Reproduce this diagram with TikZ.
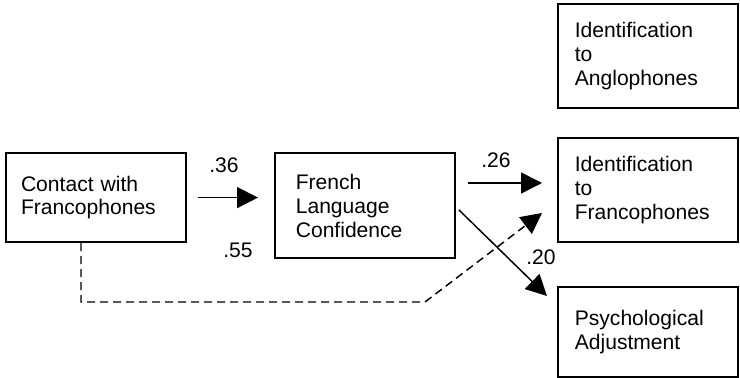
\documentclass[tikz,border=0pt]{standalone}
\usepackage{fontspec}
\setmainfont{Liberation Sans}
\usepackage{tikz}
\usetikzlibrary{positioning,arrows.meta}

\tikzset{
  box/.style={draw, line width=0.05cm, minimum width=4.5cm, text width=3.66cm,
    inner xsep=0.42cm, align=left, font=\fontsize{15}{17}\selectfont},
  coef/.style={font=\fontsize{15}{17}\selectfont, inner sep=0pt},
  path arrow/.style={line width=0.037cm, -{Triangle[length=0.52cm,width=0.52cm]}},
  indirect/.style={dash pattern=on 0.2cm off 0.125cm},
}

\begin{document}
\begin{tikzpicture}
	\useasboundingbox (0,0) rectangle (18.5,9.45);
	% Predictor and mediator
	\node[box, minimum height=2.225cm, inner xsep=0.375cm, text width=3.75cm] (contact) at (2.4,4.51) {Contact with\\Francophones};
	\node[box, minimum height=2.625cm, inner xsep=0.52cm, text width=3.46cm] (french) at (9.125,4.31) {French\\Language\\Confidence};
	% Outcomes
	\node[box, minimum height=2.6cm] (idanglo) at (16.2,8.05) {Identification\\to\\Anglophones};
	\node[box, minimum height=2.6cm] (idfranco) at (16.2,4.7) {Identification\\to\\Francophones};
	\node[box, minimum height=2.25cm] (psych) at (16.2,1.15) {Psychological\\Adjustment};
	% Paths
	\coordinate []  (f26) at ([yshift=0.565cm]french.east) ;
	\coordinate []  (bend) at (10.625,1.9) ;
	\draw[path arrow, shorten <=0.275cm, shorten >=0.4cm] (contact.east) -- (contact.east -| french.west);
	\draw[path arrow, shorten <=0.3cm, shorten >=0.375cm] (f26) -- (f26 -| idfranco.west);
	\draw[path arrow] ([shift={(0.075,-0.11)}]french.east) -- ([shift={(-0.25,-0.25)}]psych.north west);
	\draw[path arrow, indirect] ([xshift=-0.375cm]contact.south) |- (bend) -- ([shift={(-0.375,-0.575)}]idfranco.west);
	% Coefficients
	\node[coef] (c36) at (5.6,5.325) {.36};
	\node[coef] (c55) at (5.95,3.2) {.55};
	\node[coef] (c26) at (12.4,5.45) {.26};
	\node[coef] (c20) at (13.525,3.025) {.20};
\end{tikzpicture}
\end{document}
